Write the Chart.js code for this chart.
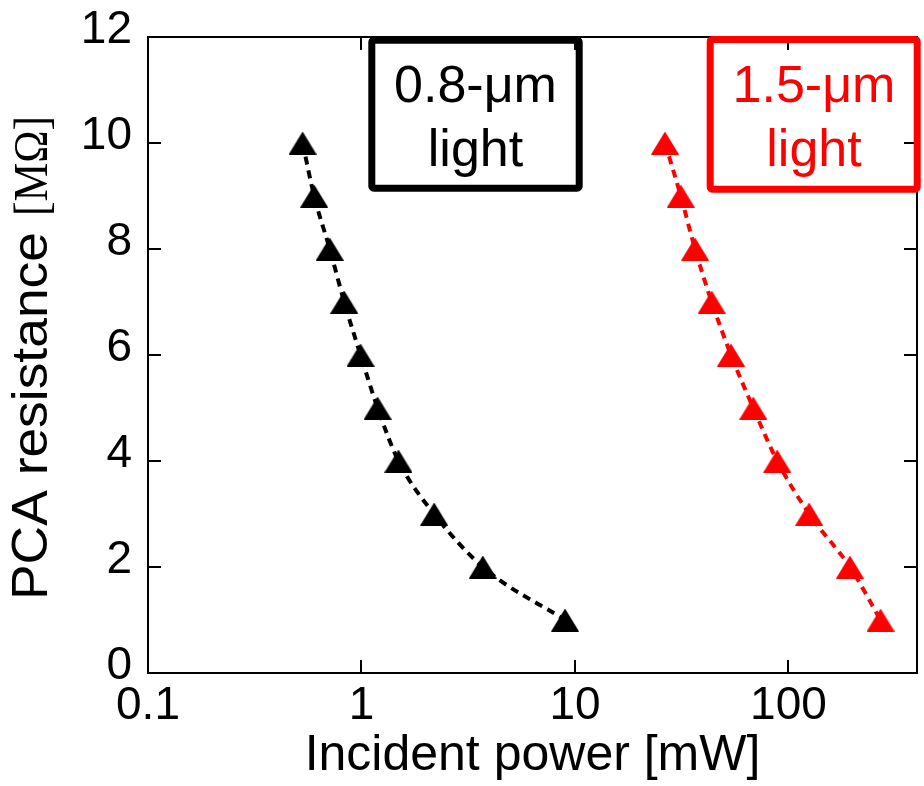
<!DOCTYPE html>
<html>
<head>
<meta charset="utf-8">
<script src="https://cdn.jsdelivr.net/npm/chart.js@4/dist/chart.umd.min.js"></script>
<style>
  html, body { margin: 0; padding: 0; background: #fff; }
  canvas { display: block; }
</style>
</head>
<body>
<canvas id="c" width="924" height="786"></canvas>
<script>
// ---- data ----
const resistance = [10, 9, 8, 7, 6, 5, 4, 3, 2, 1];          // MΩ
const power08 = [0.53, 0.60, 0.71, 0.83, 0.99, 1.19, 1.49, 2.19, 3.70, 8.98];   // mW, 0.8-μm light
const power15 = [26.4, 31.3, 36.5, 43.7, 53.8, 68.4, 88.6, 125, 194, 270];      // mW, 1.5-μm light
const xTickValues = [0.1, 1, 10, 100];
const xTickLabels = ['0.1', '1', '10', '100'];
const yTickValues = [0, 2, 4, 6, 8, 10, 12];
const seriesNames = ['0.8-μm light', '1.5-μm light'];
const boxLines = [['0.8-μm', 'light'], ['1.5-μm', 'light']];
const xTitle = 'Incident power [mW]';
const yTitleMain = 'PCA resistance';
const yTitleUnit = '[MΩ]';

const SANS = '"Liberation Sans", Arial, Helvetica, sans-serif';
const SERIF = '"Liberation Serif", "Times New Roman", serif';

function triangleImage(color) {
  const c = document.createElement('canvas');
  c.width = 28; c.height = 23;
  const g = c.getContext('2d');
  g.fillStyle = color;
  g.beginPath();
  g.moveTo(14, 0); g.lineTo(28, 23); g.lineTo(0, 23); g.closePath();
  g.fill();
  return c;
}

function makeSeries(xs) { return xs.map((x, i) => ({ x: x, y: resistance[i] })); }

function zeroPad(s) { s.paddingLeft = 0; s.paddingRight = 0; s.paddingTop = 0; s.paddingBottom = 0; }

const decorPlugin = {
  id: 'decor',
  beforeDatasetsDraw(chart) {
    const { ctx, chartArea: a, scales } = chart;
    const xs = scales.x, ys = scales.y;
    ctx.save();
    ctx.strokeStyle = '#000';
    ctx.lineWidth = 2;
    ctx.strokeRect(a.left, a.top, a.right - a.left, a.bottom - a.top);
    const L = 13;
    ctx.beginPath();
    xs.ticks.forEach(t => {
      const px = Math.round(xs.getPixelForValue(t.value));
      ctx.moveTo(px, a.bottom); ctx.lineTo(px, a.bottom - L);
      ctx.moveTo(px, a.top); ctx.lineTo(px, a.top + L);
    });
    ys.ticks.forEach(t => {
      const py = Math.round(ys.getPixelForValue(t.value));
      ctx.moveTo(a.left, py); ctx.lineTo(a.left + L, py);
      ctx.moveTo(a.right, py); ctx.lineTo(a.right - L, py);
    });
    ctx.stroke();
    ctx.restore();
  },
  afterDraw(chart) {
    const ctx = chart.ctx;
    ctx.save();
    const boxes = [
      { x: 371.8, y: 40.2, w: 207.4, h: 148, color: '#000000', cx: 475.5, lines: boxLines[0] },
      { x: 710.2, y: 39.5, w: 207, h: 149.7, color: '#ff0000', cx: 814, lines: boxLines[1] }
    ];
    boxes.forEach(b => {
      ctx.strokeStyle = b.color;
      ctx.lineWidth = 7;
      ctx.lineJoin = 'round';
      ctx.beginPath();
      ctx.roundRect(b.x, b.y, b.w, b.h, 2);
      ctx.stroke();
      ctx.fillStyle = b.color;
      ctx.font = '52px ' + SANS;
      ctx.textAlign = 'center';
      ctx.textBaseline = 'alphabetic';
      ctx.fillText(b.lines[0], b.cx, 101.5);
      ctx.fillText(b.lines[1], b.cx, 166);
    });
    ctx.restore();

    ctx.save();
    ctx.fillStyle = '#000';
    ctx.translate(47, 600);
    ctx.rotate(-Math.PI / 2);
    ctx.textAlign = 'left';
    ctx.textBaseline = 'alphabetic';
    ctx.font = '50px ' + SANS;
    const wMain = ctx.measureText(yTitleMain).width;
    ctx.save();
    ctx.scale(368 / wMain, 1);
    ctx.fillText(yTitleMain, 0, 0);
    ctx.restore();
    ctx.font = '48px ' + SERIF;
    const wUnit = ctx.measureText(yTitleUnit).width;
    ctx.save();
    ctx.translate(600 - 216, 0);
    ctx.scale(100 / wUnit, 1);
    ctx.fillText(yTitleUnit, 0, 0);
    ctx.restore();
    ctx.restore();
  }
};

const chart = new Chart(document.getElementById('c'), {
  type: 'line',
  data: {
    datasets: [
      {
        label: seriesNames[0],
        data: makeSeries(power08),
        borderColor: '#000000',
        backgroundColor: '#000000',
        borderWidth: 4,
        borderDash: [8, 6],
        cubicInterpolationMode: 'monotone',
        pointStyle: triangleImage('#000000'),
        pointRadius: 13,
        fill: false
      },
      {
        label: seriesNames[1],
        data: makeSeries(power15),
        borderColor: '#ff0000',
        backgroundColor: '#ff0000',
        borderWidth: 4,
        borderDash: [8, 6],
        cubicInterpolationMode: 'monotone',
        pointStyle: triangleImage('#ff0000'),
        pointRadius: 13,
        fill: false
      }
    ]
  },
  options: {
    responsive: false,
    devicePixelRatio: 1,
    animation: false,
    layout: { autoPadding: false, padding: { left: 0, top: 37, right: 7, bottom: 0 } },
    plugins: { legend: { display: false }, tooltip: { enabled: false } },
    scales: {
      x: {
        type: 'logarithmic',
        position: 'bottom',
        min: 0.1,
        max: 400,
        afterBuildTicks: s => { s.ticks = xTickValues.map(v => ({ value: v })); },
        afterFit: s => { s.height = 113; zeroPad(s); },
        grid: { display: false, drawTicks: false },
        border: { display: false },
        ticks: {
          color: '#000',
          font: { family: SANS, size: 46 },
          padding: 6,
          maxRotation: 0,
          autoSkip: false,
          callback: (v) => { const i = xTickValues.indexOf(v); return i >= 0 ? xTickLabels[i] : ''; }
        },
        title: {
          display: true,
          text: xTitle,
          color: '#000',
          font: { family: SANS, size: 50 },
          padding: { top: 0, bottom: 0 }
        }
      },
      y: {
        type: 'linear',
        position: 'left',
        min: 0,
        max: 12,
        afterBuildTicks: s => { s.ticks = yTickValues.map(v => ({ value: v })); },
        afterFit: s => { s.width = 148; zeroPad(s); },
        grid: { display: false, drawTicks: false },
        border: { display: false },
        ticks: {
          color: '#000',
          font: { family: SANS, size: 46 },
          padding: 16,
          labelOffset: -7
        }
      }
    }
  },
  plugins: [decorPlugin]
});
</script>
</body>
</html>
